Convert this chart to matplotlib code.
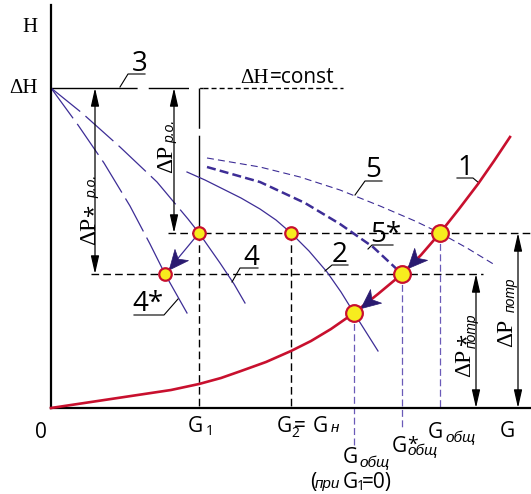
import numpy as np
import matplotlib
matplotlib.use('Agg')
import matplotlib.pyplot as plt
from matplotlib.markers import MarkerStyle
from matplotlib.path import Path
from matplotlib.transforms import Affine2D

plt.rcParams['lines.scale_dashes'] = False

# levels and flows (G along x, H up)
H_const = 320     # dH = const
H_w = 175         # working level (G1, G2, G_total)
H_ws = 134        # level after change (4*, G*_total)
H_top = 403
G_end = 480
G1 = 148
G2 = 240
G_4s = 114
G_tot0 = 303      # G_total at G1=0
G_tot_s = 351
G_tot = 389

# curve 1 - network
g1 = [0, 20, 40, 60, 80, 100, 120, 148, 170, 190, 215, 240, 260, 280, 303,
      327, 351, 370, 389, 408, 427, 443, 459]
h1 = [0, 3, 6, 9, 12, 15, 18, 24, 30, 37, 46, 57, 67, 79, 95,
      114, 134, 153, 175, 199, 224, 247, 271]
# curve 2
g2 = [136, 154, 170, 190, 209, 225, 240, 258, 276, 290, 303, 315, 327]
h2 = [236, 228, 220, 210, 199, 188, 175, 157, 136, 116, 95, 76, 57]
# curve 4 and 4*
g4 = [0, 31, 69, 106, 137, 148, 169, 183, 194]
h4 = [320, 295, 261, 226, 189, 175, 145, 124, 105]
g4s = [0, 27, 53, 79, 99, 114, 136]
h4s = [320, 283, 245, 202, 164, 134, 95]
# curve 5 and 5*
g5 = [156, 209, 249, 289, 329, 364, 389, 416, 444]
h5 = [250, 241, 231, 218, 202, 187, 175, 160, 143]
g5s = [156, 209, 254, 289, 322, 351]
h5s = [241, 226, 205, 184, 161, 134]

RED = '#c8102e'
BLUE = '#3d2d96'
NAVY = '#2a1a70'
VIO = '#6a5ab8'
YEL = '#f7ec1e'

fig = plt.figure(figsize=(5.31, 4.94), dpi=100)
ax = fig.add_axes([0, 0, 1, 1])
ax.set_xlim(-51, 480)
ax.set_ylim(-86, 408)
ax.set_xticks([])
ax.set_yticks([])
ax.patch.set_visible(False)
for s in ['top', 'right']:
    ax.spines[s].set_visible(False)
ax.spines['left'].set_position(('data', 0))
ax.spines['bottom'].set_position(('data', 0))
ax.spines['left'].set_bounds(0, H_top)
ax.spines['bottom'].set_bounds(0, G_end)
for s in ['left', 'bottom']:
    ax.spines[s].set_linewidth(1.6)

# dH = const line
ax.plot([0, 152], [H_const, H_const], color='k', lw=1.0, dashes=(62, 8, 29, 8))
ax.plot([152, 292], [H_const, H_const], color='k', lw=1.0, dashes=(3.6, 2.2))
ax.plot([G1, G1], [H_const, H_w], color='k', lw=1.0, dashes=(29, 5, 100, 5))

# working levels
ax.plot([117, 479], [H_w, H_w], color='k', lw=1.0, dashes=(5.5, 3))
ax.plot([40, 432], [H_ws, H_ws], color='k', lw=1.0, dashes=(5.5, 3))
for g in [G1, G2]:
    ax.plot([g, g], [H_w, 0], color='k', lw=1.0, dashes=(5.5, 3))
ax.plot([G_tot0, G_tot0], [95, -38], color=VIO, lw=0.9, dashes=(5, 2.5))
ax.plot([G_tot_s, G_tot_s], [H_ws, -20], color=VIO, lw=0.9, dashes=(5, 2.5))
ax.plot([G_tot, G_tot], [H_w, 0], color=VIO, lw=0.9, dashes=(5, 2.5))

# curves 4 / 4*: dashed up to the working point, solid after
g4, h4, g4s, h4s = map(np.array, (g4, h4, g4s, h4s))
m = g4 <= G1
ax.plot(g4[m], h4[m], color=BLUE, lw=0.9, dashes=(27, 5))
ax.plot(g4[g4 >= G1], h4[g4 >= G1], color=BLUE, lw=0.9)
m = g4s <= G_4s
ax.plot(g4s[m], h4s[m], color=BLUE, lw=0.9, dashes=(27, 5))
ax.plot(g4s[g4s >= G_4s], h4s[g4s >= G_4s], color=BLUE, lw=0.9)

ax.plot(g2, h2, color=BLUE, lw=0.9)
ax.plot(g5, h5, color=BLUE, lw=0.8, dashes=(5, 3))
ax.plot(g5s, h5s, color=BLUE, lw=1.8, dashes=(6.5, 3))
ax.plot(g1, h1, color=RED, lw=1.9, zorder=4)
ax.plot([G1, G_4s], [H_w, H_ws], color=BLUE, lw=0.9)

# arrow heads
head = Path([(1, 0), (-1, 0.9), (-0.45, 0), (-1, -0.9), (1, 0)],
            [Path.MOVETO, Path.LINETO, Path.LINETO, Path.LINETO, Path.CLOSEPOLY])


def arrow_head(p0, p1, r):
    d = np.subtract(p1, p0).astype(float)
    u = d / np.hypot(*d)
    c = np.array(p1) - u * (r + 9.7)
    mk = MarkerStyle(head, transform=Affine2D().rotate_deg(np.degrees(np.arctan2(d[1], d[0]))))
    ax.plot(c[0], c[1], marker=mk, ms=14, color=NAVY, mec=NAVY, mew=0.5, zorder=6)


arrow_head((G_tot, H_w), (G_tot_s, H_ws), 8)
arrow_head((G_tot_s, H_ws), (G_tot0, 95), 8)
arrow_head((G1, H_w), (G_4s, H_ws), 6)

# points
ax.plot([G_tot, G_tot_s, G_tot0], [H_w, H_ws, 95], 'o', ms=12, mfc=YEL, mec=RED, mew=1.6, zorder=7)
ax.plot([G1, G2, G_4s], [H_w, H_w, H_ws], 'o', ms=9, mfc=YEL, mec=RED, mew=1.6, zorder=7)

# dimension arrows
dims = [(44, H_const, H_ws), (123, H_const, H_w), (425, H_ws, 0), (467, H_w, 0)]
for x, a, b in dims:
    ax.annotate('', xy=(x, b), xytext=(x, a),
                arrowprops=dict(arrowstyle='<|-|>,head_length=1.1,head_width=0.25',
                                color='k', lw=0.9, shrinkA=0, shrinkB=0))

# curve labels with leaders
leaders = [
    ('3', (88.5, 337), [(94, 334), (77, 334), (69, 321)]),
    ('4', (200.5, 143), [(207, 140), (189, 140), (181, 126)]),
    ('4*', (96.5, 97), [(83, 93), (113, 93), (127, 109)]),
    ('2', (289, 146), [(297, 143), (281, 143), (274, 137)]),
    ('5*', (335, 166), [(342, 163), (321, 163), (317, 159)]),
    ('5', (322.5, 231), [(331, 227), (314, 227), (304, 213)]),
    ('1', (414, 233), [(406, 230), (422, 230), (428, 225)]),
]
for s, (x, y), pts in leaders:
    ax.text(x, y, s, fontsize=20, family='Open Sans', ha='center', va='baseline')
    xs, ys = zip(*pts)
    ax.plot(xs, ys, color='k', lw=0.8)


def put(x, y, s, size=15, fam='Open Sans', style='normal', rot=0, ha='left'):
    ax.text(x, y, s, fontsize=size, family=fam, style=style, rotation=rot,
            rotation_mode='anchor', ha=ha, va='baseline')


SER = 'Liberation Serif'
IT = 'Liberation Sans'

put(-21, 376, 'H', fam=SER, ha='center')
put(-27, 315, '\u0394H', fam=SER, ha='center')
put(189, 325, '\u0394H', fam=SER)
put(219, 325, '=const')

# rotated dP labels
put(44, 163, '\u0394P', size=17, fam=SER, rot=90)
put(48, 191, '*', size=16, rot=90)
put(45, 210, 'р.о.', size=10, fam=IT, style='italic', rot=90)
put(121, 235, '\u0394P', size=17, fam=SER, rot=90)
put(123, 265, 'р.о.', size=10, fam=IT, style='italic', rot=90)
put(419, 31, '\u0394P', size=17, fam=SER, rot=90)
put(421, 62, '*', size=16, rot=90)
put(425, 60, 'потр', size=10, fam=IT, style='italic', rot=90)
put(461, 61, '\u0394P', size=17, fam=SER, rot=90)
put(464, 96, 'потр', size=10, fam=IT, style='italic', rot=90)

# G axis labels
put(-10.5, -30, '0', ha='center')
put(449, -29, 'G')
put(137, -24, 'G')
put(155, -27, '1', size=10)
put(226, -24, 'G')
put(240, -29, '2', size=10)
put(243, -24, '=')
put(262, -24, 'G')
put(280, -24, 'н', size=11, fam=IT, style='italic')
put(292, -55, 'G')
put(309, -59, 'общ', size=11, fam=IT, style='italic')
put(259, -80, '(')
put(264, -80, 'при', size=11, fam=IT, style='italic')
put(292, -80, 'G')
put(306, -82, '1', size=10)
put(311, -80, '=0)')
put(341, -44, 'G')
put(356, -42, '*', size=14)
put(356, -47, 'общ', size=11, fam=IT, style='italic')
put(377, -30, 'G')
put(394, -34, 'общ', size=11, fam=IT, style='italic')

fig.savefig('out.png', dpi=100)
